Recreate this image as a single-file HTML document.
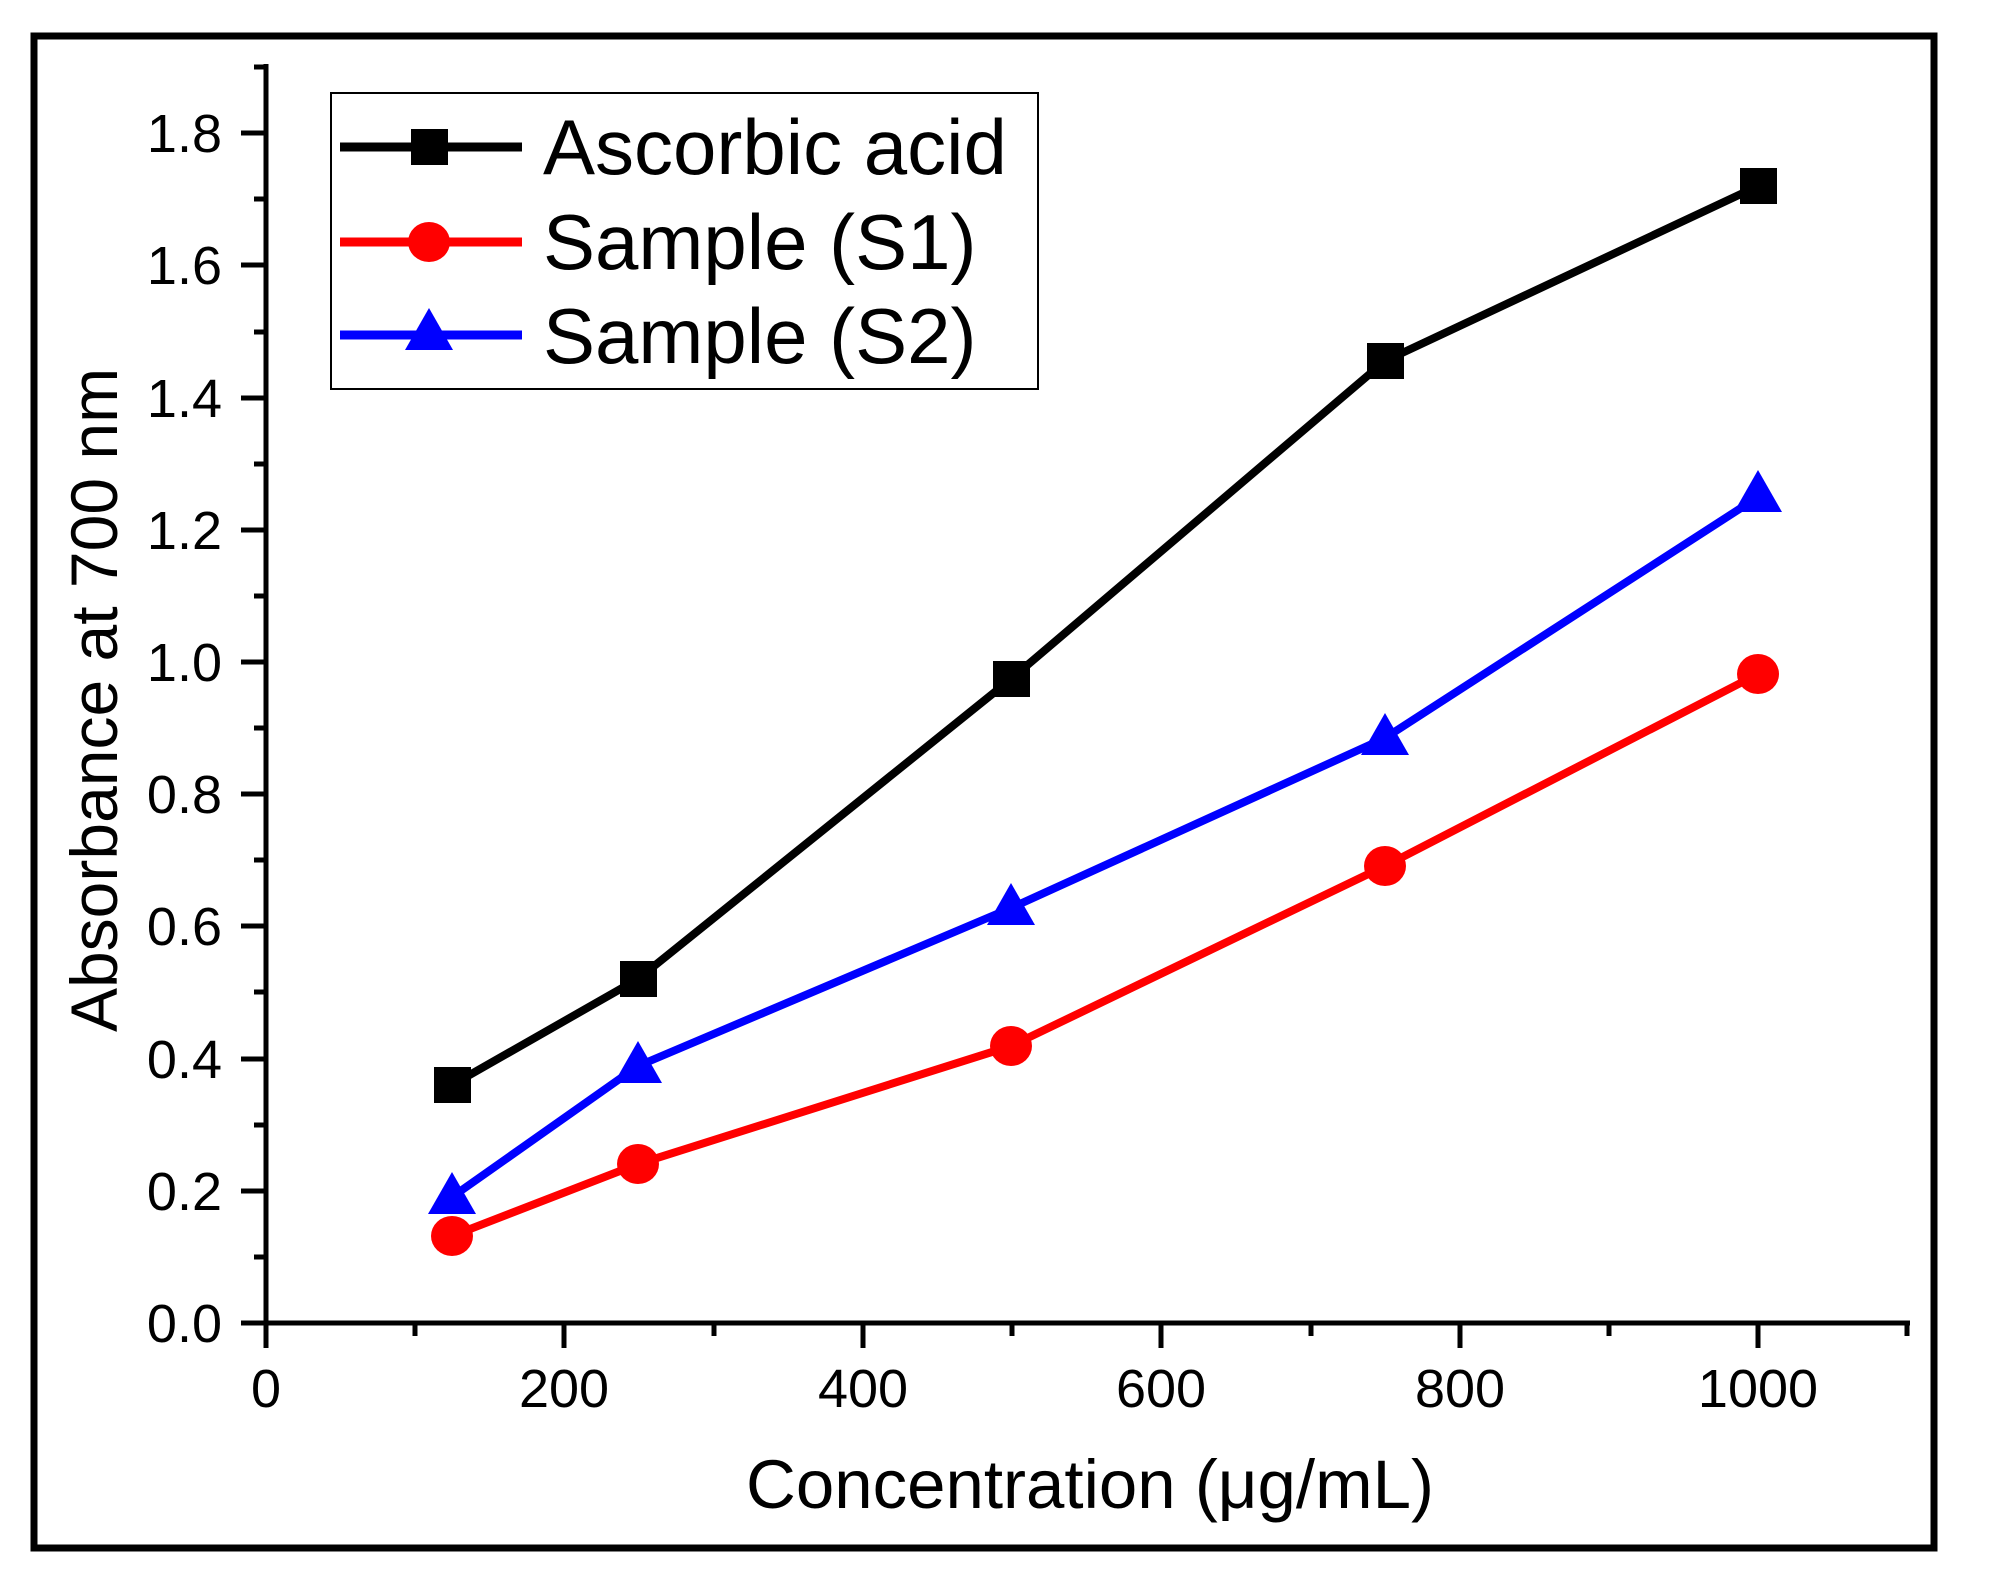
<!DOCTYPE html>
<html><head><meta charset="utf-8"><style>html,body{margin:0;padding:0;background:#fff}svg{display:block}</style></head>
<body>
<svg width="1994" height="1579" viewBox="0 0 1994 1579" xmlns="http://www.w3.org/2000/svg" font-family="Liberation Sans, Arial, sans-serif">
<rect x="0" y="0" width="1994" height="1579" fill="#fff"/>
<rect x="34" y="36" width="1900" height="1512" fill="none" stroke="#000" stroke-width="7"/>
<g stroke="#000" stroke-width="5" fill="none">
<line x1="266" y1="64" x2="266" y2="1325"/>
<line x1="264" y1="1323" x2="1910" y2="1323"/>
<line x1="241" y1="1323" x2="266" y2="1323"/>
<line x1="241" y1="1191" x2="266" y2="1191"/>
<line x1="241" y1="1059" x2="266" y2="1059"/>
<line x1="241" y1="926" x2="266" y2="926"/>
<line x1="241" y1="794" x2="266" y2="794"/>
<line x1="241" y1="662" x2="266" y2="662"/>
<line x1="241" y1="530" x2="266" y2="530"/>
<line x1="241" y1="398" x2="266" y2="398"/>
<line x1="241" y1="265" x2="266" y2="265"/>
<line x1="241" y1="133" x2="266" y2="133"/>
<line x1="254" y1="1257" x2="266" y2="1257"/>
<line x1="254" y1="1125" x2="266" y2="1125"/>
<line x1="254" y1="992" x2="266" y2="992"/>
<line x1="254" y1="860" x2="266" y2="860"/>
<line x1="254" y1="728" x2="266" y2="728"/>
<line x1="254" y1="596" x2="266" y2="596"/>
<line x1="254" y1="464" x2="266" y2="464"/>
<line x1="254" y1="332" x2="266" y2="332"/>
<line x1="254" y1="199" x2="266" y2="199"/>
<line x1="254" y1="67" x2="266" y2="67"/>
<line x1="266" y1="1323" x2="266" y2="1348"/>
<line x1="564" y1="1323" x2="564" y2="1348"/>
<line x1="863" y1="1323" x2="863" y2="1348"/>
<line x1="1161" y1="1323" x2="1161" y2="1348"/>
<line x1="1460" y1="1323" x2="1460" y2="1348"/>
<line x1="1758" y1="1323" x2="1758" y2="1348"/>
<line x1="415" y1="1323" x2="415" y2="1336"/>
<line x1="714" y1="1323" x2="714" y2="1336"/>
<line x1="1012" y1="1323" x2="1012" y2="1336"/>
<line x1="1311" y1="1323" x2="1311" y2="1336"/>
<line x1="1609" y1="1323" x2="1609" y2="1336"/>
<line x1="1907" y1="1323" x2="1907" y2="1336"/>
</g>
<g font-size="54" fill="#000" text-anchor="end">
<text x="222" y="1342">0.0</text>
<text x="222" y="1210">0.2</text>
<text x="222" y="1078">0.4</text>
<text x="222" y="945">0.6</text>
<text x="222" y="813">0.8</text>
<text x="222" y="681">1.0</text>
<text x="222" y="549">1.2</text>
<text x="222" y="417">1.4</text>
<text x="222" y="284">1.6</text>
<text x="222" y="152">1.8</text>
</g>
<g font-size="54" fill="#000" text-anchor="middle">
<text x="266" y="1407">0</text>
<text x="564" y="1407">200</text>
<text x="863" y="1407">400</text>
<text x="1161" y="1407">600</text>
<text x="1460" y="1407">800</text>
<text x="1758" y="1407">1000</text>
</g>
<text x="1090" y="1508" font-size="69" text-anchor="middle">Concentration (μg/mL)</text>
<text transform="translate(117,700) rotate(-90)" font-size="66" text-anchor="middle">Absorbance at 700 nm</text>
<g stroke-width="8" fill="none" stroke-linejoin="round">
<polyline stroke="#000" points="452,1085 638,979 1011,679 1385,361 1758,186"/>
<polyline stroke="#f00" points="452,1236 638,1164 1011,1046 1385,866 1758,674"/>
<polyline stroke="#00f" points="452,1197 638,1066 1011,908 1385,738 1758,497"/>
</g>
<g fill="#000">
<rect x="434" y="1067" width="37" height="36"/>
<rect x="620" y="961" width="37" height="36"/>
<rect x="993" y="661" width="37" height="36"/>
<rect x="1367" y="343" width="37" height="36"/>
<rect x="1740" y="168" width="37" height="36"/>
</g>
<g fill="#f00">
<ellipse cx="452" cy="1236" rx="21" ry="20"/>
<ellipse cx="638" cy="1164" rx="21" ry="20"/>
<ellipse cx="1011" cy="1046" rx="21" ry="20"/>
<ellipse cx="1385" cy="866" rx="21" ry="20"/>
<ellipse cx="1758" cy="674" rx="21" ry="20"/>
</g>
<g fill="#00f">
<polygon points="452,1172 476,1214 428,1214"/>
<polygon points="638,1041 662,1083 614,1083"/>
<polygon points="1011,883 1035,925 987,925"/>
<polygon points="1385,713 1409,755 1361,755"/>
<polygon points="1758,470 1782,512 1734,512"/>
</g>
<rect x="331" y="93" width="707" height="296" fill="#fff" stroke="#000" stroke-width="2"/>
<g stroke-width="9">
<line x1="340" y1="147" x2="522" y2="147" stroke="#000"/>
<line x1="340" y1="242" x2="522" y2="242" stroke="#f00"/>
<line x1="340" y1="335" x2="522" y2="335" stroke="#00f"/>
</g>
<rect x="411" y="129" width="37" height="36" fill="#000"/>
<ellipse cx="429" cy="242" rx="21" ry="20" fill="#f00"/>
<polygon points="429,308 453,350 405,350" fill="#00f"/>
<g font-size="78" fill="#000">
<text x="543" y="174">Ascorbic acid</text>
<text x="543" y="269">Sample (S1)</text>
<text x="543" y="363">Sample (S2)</text>
</g>
</svg>
</body></html>
